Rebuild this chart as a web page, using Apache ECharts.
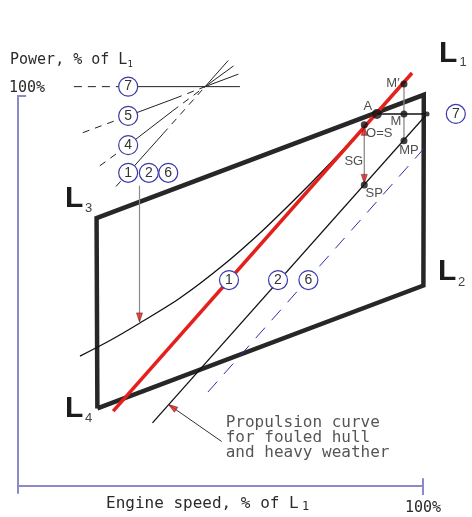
<!DOCTYPE html>
<html>
<head>
<meta charset="utf-8">
<script src="https://cdn.jsdelivr.net/npm/echarts@6/dist/echarts.min.js"></script>
<style>
  html, body { margin: 0; padding: 0; background: #fff; }
  #chart { width: 472px; height: 517px; }
</style>
</head>
<body>
<div id="chart"></div>
<script>
// Engine layout diagram: engine speed (% of L1) on x, engine power (% of L1) on y.

// Layout area L4 -> L3 -> L1 -> L2 -> back to L4
const layoutOutline = [[19.6, 19.9], [19.4, 68.7], [100.2, 100.3], [100.1, 51.4], [19.6, 19.9]];

// Line 1 (red): propeller design line through A
const designLine1 = [[23.5, 19.2], [97.3, 105.9]];
// Light running propeller curve through A and M'
const propellerCurve = [
  [15.3, 33.3], [22.7, 37.3], [30.1, 41.8], [40.0, 48.2], [50.4, 56.4],
  [60.5, 65.6], [69.6, 74.8], [79.5, 85.4], [88.6, 95.6], [95.3, 103.4]
];
// Line 2: propulsion curve for fouled hull and heavy weather
const propulsionLine2 = [[33.2, 16.2], [101.0, 95.4]];
// Line 6 (dashed blue)
const propulsionLine6 = [[46.9, 24.1], [102.5, 89.2]];
// Line 7: constant power
const powerLine7 = [[88.6, 95.4], [101.0, 95.4]];
const powerLine7Tail = [[101.0, 95.4], [112.1, 95.4]];

// Operating points
const pointNames = ['A', 'M\u2032', 'M', 'MP', 'O=S', 'SP'];
const pointSpeed = [88.6, 95.3, 95.3, 95.3, 85.5, 85.5];
const pointPower = [95.4, 103.1, 95.4, 88.5, 92.6, 77.2];

// Curve tags placed on the curves
const curveTags = ['1', '2', '6', '7'];
const curveTagSpeed = [52.1, 64.2, 71.7, 108.1];
const curveTagPower = [52.8, 52.8, 52.8, 95.4];

// Key of line families (top left); all lines meet in one point
const keyMeet = [46.2, 102.4];
const keyLine7 = [[13.8, 102.4], [27.2, 102.4], [54.8, 102.4]];
const keyLine5 = [[16.0, 90.6], [27.2, 94.9], [38.8, 99.4], [54.4, 105.6]];
const keyLine4 = [[20.2, 82.1], [27.2, 87.4], [38.2, 96.2], [53.2, 107.7]];
const keyLine1 = [[24.2, 76.8], [27.2, 80.3], [35.8, 90.3], [51.9, 109.1]];
const keyTags = ['7', '5', '4', '1', '2', '6'];
const keyTagSpeed = [27.2, 27.2, 27.2, 27.2, 32.3, 37.1];
const keyTagPower = [102.4, 94.9, 87.4, 80.3, 80.3, 80.3];

// Leader lines
const keyLeader = [[30.0, 77.0], [30.0, 42.2]];
const foulingLeader = [[50.3, 11.4], [37.3, 20.8]];

// Axis frame
const axisSpan = [-2, 100];
const yTitle = 'Power, % of L';
const xTitle = 'Engine speed, % of L';
const fullScale = '100%';
const foulingNote = 'Propulsion curve\nfor fouled hull\nand heavy weather';

const MONO = '"DejaVu Sans Mono", monospace';
const SANS = '"Liberation Sans", Arial, sans-serif';
const AXIS_BLUE = '#8a8ac8';
const TAG_BLUE = '#3a3aa8';

function path(data, color, width, dash, z) {
  return {
    type: 'line', data: data, symbol: 'none', showSymbol: false, clip: false, silent: true,
    animation: false, z: z || 2,
    lineStyle: { color: color, width: width, type: dash || 'solid', join: 'miter', cap: 'butt' }
  };
}

function tags(names, xs, ys) {
  return {
    type: 'scatter', clip: false, silent: true, animation: false, z: 20,
    symbol: 'circle', symbolSize: 19,
    itemStyle: { color: '#fff', borderColor: TAG_BLUE, borderWidth: 1.2, opacity: 1 },
    label: { show: true, position: 'inside', formatter: '{b}', color: '#333', fontSize: 14, fontFamily: SANS },
    data: names.map((n, i) => ({ name: n, value: [xs[i], ys[i]] }))
  };
}

const dotLabelOffsets = [[-9, -8], [-11, 0], [-8, 7], [5, 10], [15, 8.5], [10, 9]];
const dotItems = pointNames.map((n, i) => ({
  name: n,
  value: [pointSpeed[i], pointPower[i]],
  symbolSize: n === 'A' ? 10 : 7,
  label: { offset: dotLabelOffsets[i] }
}));
// junction of line 2 with line 7
dotItems.push({ name: '', value: propulsionLine2[1], symbolSize: 5 });

const seaMargin = [[pointSpeed[4], pointPower[4]], [pointSpeed[5], pointPower[5]]];
const mLine = [[pointSpeed[1], pointPower[1]], [pointSpeed[3], pointPower[3]]];

const keySeries = [];
[keyLine5, keyLine4, keyLine1].forEach(l => {
  keySeries.push(path([l[0], l[1]], '#222', 1, [7, 6], 6));
  keySeries.push(path([l[1], l[2]], '#222', 1, 'solid', 6));
  keySeries.push(path([l[2], keyMeet], '#222', 1, [7, 6], 6));
  keySeries.push(path([keyMeet, l[3]], '#222', 1, 'solid', 6));
});
keySeries.push(path([keyLine7[0], keyLine7[1]], '#222', 1, [8, 6], 6));
keySeries.push(path([keyLine7[1], keyLine7[2]], '#222', 1, 'solid', 6));

const arrowStyle = { color: '#e2231a', borderColor: '#5a0a0a', borderWidth: 0.6 };

const option = {
  backgroundColor: '#fff',
  animation: false,
  grid: { left: 18, right: 49, top: 96, bottom: 31 },
  xAxis: { type: 'value', min: 0, max: 100, show: false },
  yAxis: { type: 'value', min: 0, max: 100, show: false },
  series: [
    // axes
    path([[axisSpan[0], 0], [axisSpan[1], 0]], AXIS_BLUE, 2, 'solid', 1),
    path([[0, axisSpan[0]], [0, axisSpan[1]]], AXIS_BLUE, 2, 'solid', 1),
    path([[-2, 100], [2, 100]], AXIS_BLUE, 2, 'solid', 1),
    path([[100, -2.3], [100, 2]], AXIS_BLUE, 2, 'solid', 1),
    // layout area
    path(layoutOutline, '#272727', 4.5, 'solid', 3),
    // curves
    path(propulsionLine6, '#2f2fa6', 1, [14, 10], 4),
    path(propulsionLine2, '#111', 1.3, 'solid', 4),
    Object.assign(path(propellerCurve, '#111', 1.3, 'solid', 4), { smooth: 0.3 }),
    path(designLine1, '#e4201c', 3.5, 'solid', 5),
    path(powerLine7, '#111', 1.6, 'solid', 6),
    path(powerLine7Tail, '#7b7bc4', 1.5, 'solid', 6),
    // construction lines
    path(mLine, '#8a8a8a', 1.3, 'solid', 6),
    path(seaMargin, '#8a8a8a', 1.3, 'solid', 6),
    path(keyLeader, '#8a8a8a', 1.2, 'solid', 6),
    path(foulingLeader, '#333', 1, 'solid', 6),
    ...keySeries,
    // arrow heads
    {
      type: 'scatter', clip: false, silent: true, animation: false, z: 9,
      symbol: 'triangle', symbolSize: [6, 9], itemStyle: arrowStyle,
      data: [
        { value: keyLeader[1], symbolRotate: 180, symbolOffset: [0, -4] },
        { value: seaMargin[0], symbolRotate: 0, symbolOffset: [0, 6] },
        { value: seaMargin[1], symbolRotate: 180, symbolOffset: [0, -6] },
        { value: foulingLeader[1], symbolRotate: 55, symbolOffset: [3.3, 2.3] }
      ]
    },
    // curve tags
    tags(curveTags, curveTagSpeed, curveTagPower),
    tags(keyTags, keyTagSpeed, keyTagPower),
    // operating points
    {
      type: 'scatter', clip: false, silent: true, animation: false, z: 21,
      symbol: 'circle', itemStyle: { color: '#111' },
      label: { show: true, position: 'inside', formatter: '{b}', color: '#222', fontSize: 13, fontFamily: SANS },
      data: dotItems
    },
    // SG dimension text and fouling note
    {
      type: 'scatter', clip: false, silent: true, animation: false, z: 21,
      symbolSize: 0,
      data: [
        {
          name: 'SG',
          value: [seaMargin[0][0], (seaMargin[0][1] + seaMargin[1][1]) / 2],
          label: { show: true, position: 'inside', offset: [-10.5, 6.5], formatter: '{b}', color: '#222', fontSize: 13, fontFamily: SANS }
        },
        {
          name: foulingNote,
          value: foulingLeader[0],
          label: { show: true, position: 'right', distance: 4, offset: [0, -4], formatter: '{b}', color: '#2a2a2a', fontSize: 16, lineHeight: 15, fontFamily: MONO }
        }
      ]
    }
  ],
  graphic: [
    { type: 'text', x: 10, y: 60, style: { text: yTitle, font: '15px ' + MONO, fill: '#2a2a2a', verticalAlign: 'middle' } },
    { type: 'text', x: 127.5, y: 64.5, style: { text: '1', font: '9px ' + MONO, fill: '#2a2a2a', verticalAlign: 'middle' } },
    { type: 'text', x: 9, y: 88.5, style: { text: fullScale, font: '15px ' + MONO, fill: '#2a2a2a', verticalAlign: 'middle' } },
    { type: 'text', x: 106, y: 504, style: { text: xTitle, font: '16px ' + MONO, fill: '#2a2a2a', verticalAlign: 'middle' } },
    { type: 'text', x: 302, y: 506.5, style: { text: '1', font: '12px ' + MONO, fill: '#2a2a2a', verticalAlign: 'middle' } },
    { type: 'text', x: 405, y: 508, style: { text: fullScale, font: '15px ' + MONO, fill: '#2a2a2a', verticalAlign: 'middle' } },

    { type: 'text', x: 439, y: 53.5, style: { text: 'L', font: 'bold 30px ' + SANS, fill: '#1c1c1c', verticalAlign: 'middle' } },
    { type: 'text', x: 459.5, y: 62.5, style: { text: '1', font: '13px ' + SANS, fill: '#444', verticalAlign: 'middle' } },
    { type: 'text', x: 438, y: 271.5, style: { text: 'L', font: 'bold 30px ' + SANS, fill: '#1c1c1c', verticalAlign: 'middle' } },
    { type: 'text', x: 458, y: 282.5, style: { text: '2', font: '13px ' + SANS, fill: '#444', verticalAlign: 'middle' } },
    { type: 'text', x: 65, y: 198.5, style: { text: 'L', font: 'bold 30px ' + SANS, fill: '#1c1c1c', verticalAlign: 'middle' } },
    { type: 'text', x: 85, y: 208, style: { text: '3', font: '13px ' + SANS, fill: '#444', verticalAlign: 'middle' } },
    { type: 'text', x: 65, y: 408.5, style: { text: 'L', font: 'bold 30px ' + SANS, fill: '#1c1c1c', verticalAlign: 'middle' } },
    { type: 'text', x: 85, y: 418, style: { text: '4', font: '13px ' + SANS, fill: '#444', verticalAlign: 'middle' } }
  ]
};

const chartInstance = echarts.init(document.getElementById('chart'), null, { renderer: 'canvas' });
chartInstance.setOption(option);
</script>
</body>
</html>
